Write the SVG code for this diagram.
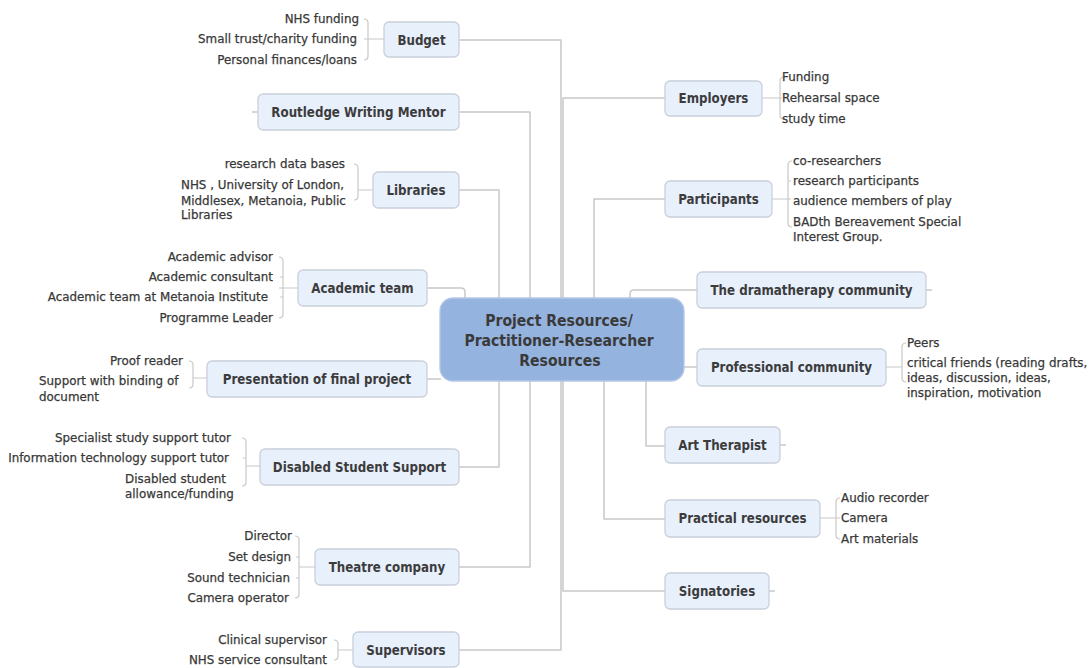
<svg xmlns="http://www.w3.org/2000/svg" width="1091" height="668" viewBox="0 0 1091 668">
  <style>
    .link { fill: none; stroke: #c8c8c8; stroke-width: 1.5; stroke-linejoin: round; }
    .brace { fill: none; stroke: #c8c8c8; stroke-width: 1.2; }
    .box { fill: #e8f0fc; stroke: #c9d0da; stroke-width: 1.3; }
    .root { fill: #95b3df; stroke: #b4c7e6; stroke-width: 1.3; }
    .label { font-family: "DejaVu Sans Condensed", "DejaVu Sans", sans-serif; font-weight: bold; font-size: 13.2px; fill: #3c3c3c; text-anchor: middle; }
    .rootlabel { font-family: "DejaVu Sans Condensed", "DejaVu Sans", sans-serif; font-weight: bold; font-size: 15.6px; fill: #3a3a3a; text-anchor: middle; }
    .leaf { font-family: "DejaVu Sans", sans-serif; font-size: 11.9px; fill: #383838; stroke: #383838; stroke-width: 0.25; }
    .r { text-anchor: end; }
  </style>

  <rect width="1091" height="668" fill="#ffffff"/>

  <!-- branch connectors from the central topic -->
  <g id="connectors">
    <path class="link" d="M459,40 H561 V298"/>
    <path class="link" d="M459,112 H530 V298"/>
    <path class="link" d="M459,190 H499 V298"/>
    <path class="link" d="M427,288 H461 Q465,288 465,292 V298"/>
    <path class="link" d="M665,98 H563 V298"/>
    <path class="link" d="M665,199 H594 V298"/>
    <path class="link" d="M697,290 H634 Q630,290 630,294 V298"/>
    <path class="link" d="M427,379 H441"/>
    <path class="link" d="M683,367 H697"/>
    <path class="link" d="M499,381 V467 H459"/>
    <path class="link" d="M530,381 V567 H459"/>
    <path class="link" d="M561,381 V650 H459"/>
    <path class="link" d="M563,381 V591 H665"/>
    <path class="link" d="M604,381 V519 H665"/>
    <path class="link" d="M646,381 V446 H665"/>
    <!-- collapsed-branch stubs -->
    <path class="link" d="M252,112 H258"/>
    <path class="link" d="M926,290 H932"/>
    <path class="link" d="M780,445 H786"/>
    <path class="link" d="M769,591 H775"/>
  </g>

  <!-- central topic -->
  <g id="root">
    <rect class="root" x="440" y="298" width="244" height="83" rx="13"/>
    <text class="rootlabel" x="559" y="326">Project Resources/</text>
    <text class="rootlabel" x="559" y="346">Practitioner-Researcher</text>
    <text class="rootlabel" x="560" y="366">Resources</text>
  </g>

  <g id="budget">
    <path class="brace" d="M364,19 Q368,19 368,23 V56 Q368,60 364,60 M364,39 H384"/>
    <text class="leaf r" x="359" y="23">NHS funding</text>
    <text class="leaf r" x="357" y="43">Small trust/charity funding</text>
    <text class="leaf r" x="357" y="64">Personal finances/loans</text>
    <rect class="box" x="384" y="22" width="75" height="35" rx="5"/>
    <text class="label" x="421.5" y="44.5">Budget</text>
  </g>

  <g id="routledge">
    <rect class="box" x="258" y="94" width="201" height="36" rx="5"/>
    <text class="label" x="358.5" y="117">Routledge Writing Mentor</text>
  </g>

  <g id="libraries">
    <path class="brace" d="M354,164 Q358,164 358,168 V196 Q358,200 354,200 M358,190 H373"/>
    <text class="leaf r" x="345" y="168">research data bases</text>
    <text class="leaf" x="181" y="189">NHS , University of London,</text>
    <text class="leaf" x="181" y="204.5">Middlesex, Metanoia, Public</text>
    <text class="leaf" x="181" y="219">Libraries</text>
    <rect class="box" x="373" y="172" width="86" height="36" rx="5"/>
    <text class="label" x="416" y="195">Libraries</text>
  </g>

  <g id="academic-team">
    <path class="brace" d="M279,257 Q283,257 283,261 V314 Q283,318 279,318 M280,277 H283 M280,297 H283 M279,288 H298"/>
    <text class="leaf r" x="273" y="261">Academic advisor</text>
    <text class="leaf r" x="273" y="281">Academic consultant</text>
    <text class="leaf r" x="268" y="301">Academic team at Metanoia Institute</text>
    <text class="leaf r" x="273" y="322">Programme Leader</text>
    <rect class="box" x="298" y="270" width="129" height="36" rx="5"/>
    <text class="label" x="362.5" y="293">Academic team</text>
  </g>

  <g id="presentation">
    <path class="brace" d="M189,361 Q193,361 193,365 V384 Q193,388 189,388 M193,378 H207"/>
    <text class="leaf r" x="183" y="365">Proof reader</text>
    <text class="leaf" x="39" y="385">Support with binding of</text>
    <text class="leaf" x="39" y="401">document</text>
    <rect class="box" x="207" y="361" width="220" height="36" rx="5"/>
    <text class="label" x="317" y="384">Presentation of final project</text>
  </g>

  <g id="disabled-support">
    <path class="brace" d="M242,438 Q246,438 246,442 V482 Q246,486 242,486 M243,458 H246 M246,466 H260"/>
    <text class="leaf r" x="231" y="442">Specialist study support tutor</text>
    <text class="leaf r" x="229" y="462">Information technology support tutor</text>
    <text class="leaf" x="125" y="483">Disabled student</text>
    <text class="leaf" x="125" y="498">allowance/funding</text>
    <rect class="box" x="260" y="449" width="199" height="36" rx="5"/>
    <text class="label" x="359.5" y="472">Disabled Student Support</text>
  </g>

  <g id="theatre-company">
    <path class="brace" d="M295,536 Q299,536 299,540 V594 Q299,598 295,598 M296,557 H299 M296,578 H299 M299,567 H315"/>
    <text class="leaf r" x="292" y="540">Director</text>
    <text class="leaf r" x="291" y="561">Set design</text>
    <text class="leaf r" x="290" y="582">Sound technician</text>
    <text class="leaf r" x="289" y="602">Camera operator</text>
    <rect class="box" x="315" y="549" width="144" height="36" rx="5"/>
    <text class="label" x="387" y="572">Theatre company</text>
  </g>

  <g id="supervisors">
    <path class="brace" d="M334,640 Q338,640 338,644 V656 Q338,660 334,660 M338,650 H353"/>
    <text class="leaf r" x="327" y="644">Clinical supervisor</text>
    <text class="leaf r" x="327" y="664">NHS service consultant</text>
    <rect class="box" x="353" y="632" width="106" height="35" rx="5"/>
    <text class="label" x="406" y="654.5">Supervisors</text>
  </g>

  <g id="employers">
    <path class="brace" d="M784,77 Q780,77 780,81 V115 Q780,119 784,119 M762,98 H782"/>
    <text class="leaf" x="782" y="81">Funding</text>
    <text class="leaf" x="782" y="102">Rehearsal space</text>
    <text class="leaf" x="782" y="123">study time</text>
    <rect class="box" x="665" y="81" width="97" height="35" rx="5"/>
    <text class="label" x="713.5" y="103">Employers</text>
  </g>

  <g id="participants">
    <path class="brace" d="M792,161 Q788,161 788,165 V223 Q788,227 792,227 M788,181 H791 M772,199 H791"/>
    <text class="leaf" x="793" y="165">co-researchers</text>
    <text class="leaf" x="793" y="185">research participants</text>
    <text class="leaf" x="793" y="205">audience members of play</text>
    <text class="leaf" x="793" y="226">BADth Bereavement Special</text>
    <text class="leaf" x="793" y="241">Interest Group.</text>
    <rect class="box" x="665" y="181" width="107" height="36" rx="5"/>
    <text class="label" x="718.5" y="204">Participants</text>
  </g>

  <g id="dramatherapy-community">
    <rect class="box" x="697" y="272" width="229" height="36" rx="5"/>
    <text class="label" x="811.5" y="295">The dramatherapy community</text>
  </g>

  <g id="professional-community">
    <path class="brace" d="M906,343 Q902,343 902,347 V378 Q902,382 906,382 M886,367 H902"/>
    <text class="leaf" x="907" y="347">Peers</text>
    <text class="leaf" x="907" y="367">critical friends (reading drafts,</text>
    <text class="leaf" x="907" y="381.5">ideas, discussion, ideas,</text>
    <text class="leaf" x="907" y="397">inspiration, motivation</text>
    <rect class="box" x="697" y="349" width="189" height="37" rx="5"/>
    <text class="label" x="791.5" y="372">Professional community</text>
  </g>

  <g id="art-therapist">
    <rect class="box" x="665" y="427" width="115" height="36" rx="5"/>
    <text class="label" x="722.5" y="450">Art Therapist</text>
  </g>

  <g id="practical-resources">
    <path class="brace" d="M840,498 Q836,498 836,502 V535 Q836,539 840,539 M820,518 H840"/>
    <text class="leaf" x="841" y="502">Audio recorder</text>
    <text class="leaf" x="841" y="522">Camera</text>
    <text class="leaf" x="841" y="543">Art materials</text>
    <rect class="box" x="665" y="500" width="155" height="37" rx="5"/>
    <text class="label" x="742.5" y="523">Practical resources</text>
  </g>

  <g id="signatories">
    <rect class="box" x="665" y="573" width="104" height="36" rx="5"/>
    <text class="label" x="717" y="596">Signatories</text>
  </g>
</svg>
